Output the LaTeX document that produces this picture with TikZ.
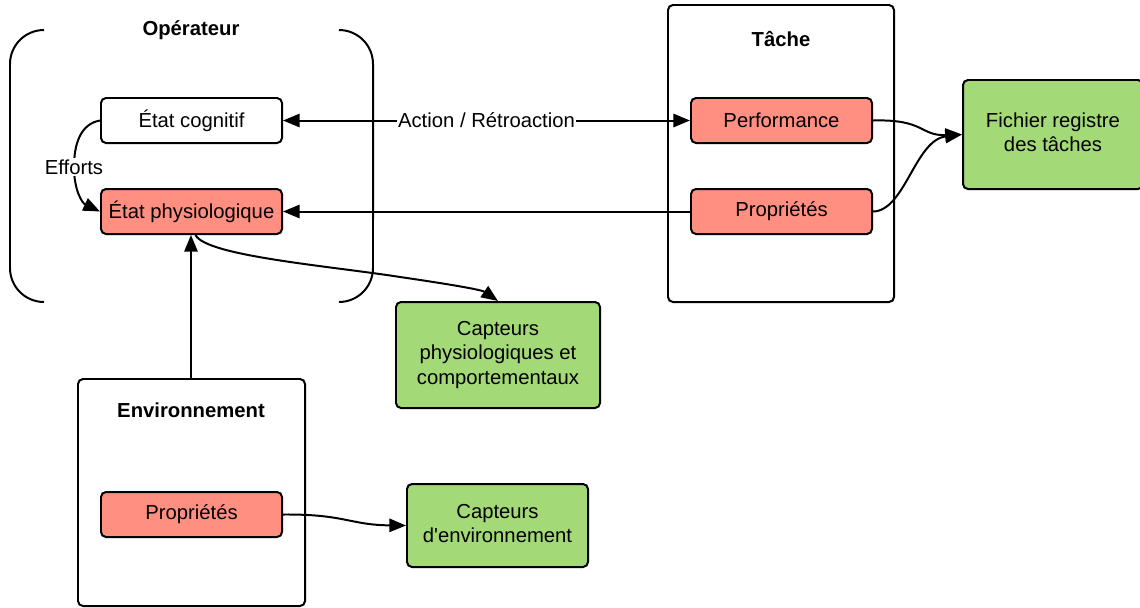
\documentclass[tikz,border=0pt]{standalone}
\usepackage{fontspec}
\setmainfont{Liberation Sans}
\usetikzlibrary{arrows.meta,calc}
\definecolor{boxred}{RGB}{255,143,128}
\definecolor{boxgreen}{RGB}{163,217,119}
\tikzset{
  base/.style={draw=black, line width=1.7pt, rounded corners=0.15cm, align=center, inner sep=0pt,
    font=\fontsize{17.3}{20.9}\selectfont},
  redbox/.style={base, fill=boxred, minimum width=5.43cm, minimum height=1.35cm},
  whitebox/.style={base, fill=white, minimum width=5.43cm, minimum height=1.35cm},
  greenbox/.style={base, fill=boxgreen},
  frame/.style={draw=black, line width=1.7pt, rounded corners=0.15cm, fill=none, inner sep=0pt},
  title/.style={font=\fontsize{17.3}{20.9}\selectfont\bfseries, inner sep=0pt},
  conn/.style={line width=1.7pt, -{Triangle[length=0.5cm,width=0.4cm]}},
  lbl/.style={fill=white, inner sep=1pt, font=\fontsize{17.3}{20.9}\selectfont},
}
\begin{document}
\begin{tikzpicture}[x=0.03cm,y=-0.03cm]
\useasboundingbox (0,0) rectangle (1140,607);
% frames
\node[frame, minimum width=6.78cm, minimum height=8.91cm] (tacheframe) at (781,153.5) {};
\node[frame, minimum width=6.81cm, minimum height=6.81cm] (envframe) at (191.5,492.5) {};
% Operateur brackets
\draw[line width=1.7pt] (44,30) arc[start angle=90,end angle=180,radius=1.02cm] -- (10,268) arc[start angle=180,end angle=270,radius=1.02cm];
\draw[line width=1.7pt] (339,30) arc[start angle=90,end angle=0,radius=1.02cm] -- (373,268) arc[start angle=0,end angle=-90,radius=1.02cm];
% titles
\node[title] (toper) at (191,30) {Opérateur};
\node[title] (ttache) at (781,39) {Tâche};
\node[title] (tenv) at (191,410) {Environnement};
% boxes
\node[whitebox] (cog) at (191.5,120.5) {État cognitif};
\node[redbox] (phys) at (191.5,211.5) {État physiologique};
\node[redbox] (perf) at (781.5,120.5) {Performance};
\node[redbox] (tprop) at (781.5,211.5) {Propriétés};
\node[redbox] (eprop) at (191.5,514.5) {Propriétés};
\node[greenbox, minimum width=5.4cm, minimum height=3.27cm] (fich) at (1053,134.5) {Fichier registre\\des tâches\vphantom{g}};
\node[greenbox, minimum width=6.12cm, minimum height=3.18cm] (cphys) at (498,355) {Capteurs\\physiologiques et\\comportementaux};
\node[greenbox, minimum width=5.43cm, minimum height=2.49cm] (cenv) at (497.5,525.5) {Capteurs\\d\textquotesingle environnement\vphantom{g}};
% connectors
\draw[conn, {Triangle[length=0.5cm,width=0.4cm]}-{Triangle[length=0.5cm,width=0.4cm]}] (cog.east) -- node[lbl] (actlbl) {Action / Rétroaction} (perf.west);
\draw[conn] (tprop.west) -- (phys.east);
\draw[conn] (cog.west) .. controls (80,124) and (74,145) .. (74,167) node[lbl] (effl) {Efforts} .. controls (74,190) and (82,203) .. (phys.west);
\draw[conn] ($(envframe.north)+(-0.5,0)$) -- ($(phys.south)+(-0.5,0)$);
\draw[conn] ($(phys.south)+(4,0)$) .. controls (206,256) and (330,266) .. (400,277) .. controls (455,285) and (482,290) .. (cphys.north);
\draw[conn] (perf.east) .. controls (925,119) and (920,136) .. (fich.west);
\draw[conn] (tprop.east) .. controls (905,211) and (915,140) .. (fich.west);
\draw[conn] (eprop.east) .. controls (345,514) and (350,525) .. (cenv.west);
\end{tikzpicture}
\end{document}
